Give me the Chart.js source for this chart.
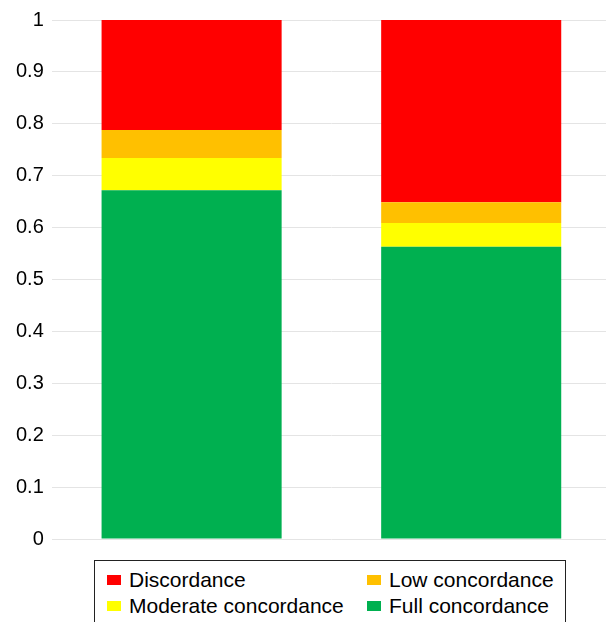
<!DOCTYPE html>
<html lang="en">
<head>
    <meta charset="UTF-8">
    <title>Concordance</title>
    <script src="https://cdn.jsdelivr.net/npm/chart.js"></script>
    <style>
        html, body { margin: 0; padding: 0; background: #fff; overflow: hidden; }
        body { width: 606px; height: 622px; position: relative; font-family: "Liberation Sans", Arial, sans-serif; }
        #chartBox { position: absolute; left: 0; top: 0; width: 611px; height: 559px; }
        #legend {
            position: absolute; left: 94px; top: 560px; width: 472px; height: 80px;
            border: 1px solid #222; box-sizing: border-box;
            display: grid; grid-template-columns: 260px 200px; grid-auto-rows: 26px;
            padding: 6px 0 0 12px; font-size: 21px; color: #000;
        }
        .item { display: flex; align-items: center; white-space: nowrap; }
        .swatch { width: 14px; height: 10px; margin-right: 8px; }
    </style>
</head>
<body>
    <div id="chartBox"><canvas id="chart"></canvas></div>
    <div id="legend"></div>

    <script>
        // values (share of cases)
        const categories = ['', ''];
        const fullConcordance = [0.672, 0.563];
        const moderateConcordance = [0.062, 0.046];
        const lowConcordance = [0.054, 0.040];
        const discordance = [0.212, 0.351];
        const yTicks = [0, 0.1, 0.2, 0.3, 0.4, 0.5, 0.6, 0.7, 0.8, 0.9, 1];

        const ctx = document.getElementById('chart').getContext('2d');
        const chart = new Chart(ctx, {
            type: 'bar',
            data: {
                labels: categories,
                datasets: [
                    { label: 'Full concordance', data: fullConcordance, backgroundColor: '#00B050' },
                    { label: 'Moderate concordance', data: moderateConcordance, backgroundColor: '#FFFF00' },
                    { label: 'Low concordance', data: lowConcordance, backgroundColor: '#FFC000' },
                    { label: 'Discordance', data: discordance, backgroundColor: '#FF0000' }
                ]
            },
            options: {
                responsive: true,
                maintainAspectRatio: false,
                animation: false,
                layout: { padding: { left: 8, right: 0, top: 14.5, bottom: 10 } },
                datasets: { bar: { barPercentage: 0.644, categoryPercentage: 1 } },
                plugins: { legend: { display: false }, tooltip: { enabled: false } },
                scales: {
                    x: { stacked: true, display: false },
                    y: {
                        stacked: true,
                        min: 0,
                        max: 1,
                        afterBuildTicks: axis => { axis.ticks = yTicks.map(v => ({ value: v })); },
                        border: { display: false },
                        grid: { color: '#e4e4e4', lineWidth: 1, drawTicks: false },
                        ticks: {
                            padding: 8,
                            color: '#000',
                            font: { family: '"Liberation Sans", Arial, sans-serif', size: 20 },
                            callback: v => String(+Number(v).toFixed(1))
                        }
                    }
                }
            }
        });

        // legend in the reference order: two columns, read row by row
        const legendOrder = ['Discordance', 'Low concordance', 'Moderate concordance', 'Full concordance'];
        const legendEl = document.getElementById('legend');
        legendOrder.forEach(name => {
            const ds = chart.data.datasets.find(d => d.label === name);
            const item = document.createElement('div');
            item.className = 'item';
            item.innerHTML = `<span class="swatch" style="background:${ds.backgroundColor}"></span>${ds.label}`;
            legendEl.appendChild(item);
        });
    </script>
</body>
</html>
